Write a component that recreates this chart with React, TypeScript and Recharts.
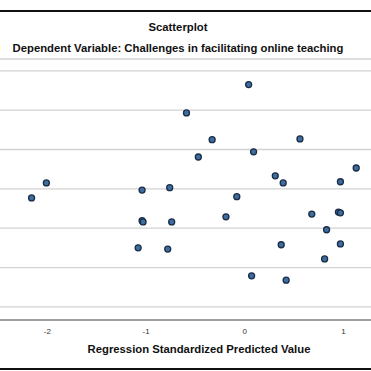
import { CartesianGrid, Scatter, ScatterChart, XAxis, YAxis } from 'recharts';

// Regression standardized predicted value (x) and residual (y)
const predictedValues = [
  -2.16, -2.01, -1.04, -0.76, -1.04, -1.03, -0.74, -1.08, -0.78, -0.59,
  -0.33, -0.47, 0.04, 0.09, -0.08, -0.19, 0.31, 0.39, 0.56, 0.07,
  0.42, 0.37, 0.68, 0.95, 0.97, 0.83, 0.81, 0.97, 0.97, 1.13,
];
const residuals = [
  -0.23, 0.15, -0.03, 0.03, -0.81, -0.84, -0.84, -1.5, -1.53, 1.93,
  1.25, 0.81, 2.65, 0.94, -0.2, -0.71, 0.33, 0.15, 1.27, -2.21,
  -2.32, -1.42, -0.64, -0.59, -0.61, -1.04, -1.78, -1.4, 0.18, 0.53,
];
const xTicks = [-2, -1, 0, 1];
const yTicks = [-3, -2, -1, 0, 1, 2, 3];

const points = predictedValues.map((x, i) => ({ x, y: residuals[i] }));

const font = '"Liberation Sans", Arial, sans-serif';

function Dot(props: any) {
  const { cx, cy } = props;
  return <circle cx={cx} cy={cy} r={3} fill="#3d6e9f" stroke="#1a2c46" strokeWidth={1.3} />;
}

const titleStyle = {
  position: 'absolute' as const,
  left: 0,
  textAlign: 'center' as const,
  fontSize: 11.3,
  fontWeight: 'bold' as const,
  color: '#111',
  whiteSpace: 'nowrap' as const,
};

export default function App() {
  return (
    <div
      style={{
        position: 'absolute',
        left: 0,
        top: 0,
        width: 371,
        height: 371,
        background: '#fff',
        fontFamily: font,
        overflow: 'hidden',
      }}
    >
      <div style={{ position: 'absolute', left: 0, top: 10, width: 371, height: 2, background: '#111' }} />
      <div style={{ ...titleStyle, width: 356, top: 21 }}>Scatterplot</div>
      <div style={{ ...titleStyle, width: 356, top: 42 }}>
        Dependent Variable: Challenges in facilitating online teaching
      </div>
      <div style={{ position: 'absolute', left: 0, top: 0 }}>
        <ScatterChart width={371} height={371} margin={{ top: 59, right: 0, bottom: 21, left: 0 }}>
          <CartesianGrid vertical={false} stroke="#d2d2d2" strokeWidth={1.3} />
          <XAxis
            type="number"
            dataKey="x"
            domain={[-2.48, 1.28]}
            ticks={xTicks}
            allowDataOverflow
            height={30}
            tickLine={false}
            axisLine={{ stroke: '#8a8a8a', strokeWidth: 1.3 }}
            tick={{ fontSize: 8, fill: '#333', fontFamily: font }}
            tickMargin={2}
          />
          <YAxis
            type="number"
            dataKey="y"
            domain={[-3.333, 3.3]}
            ticks={yTicks}
            allowDataOverflow
            width={0}
            tick={{ fontSize: 1, fill: 'none' }}
            tickLine={false}
            axisLine={false}
          />
          <Scatter data={points} shape={Dot} isAnimationActive={false} />
        </ScatterChart>
      </div>
      <div style={{ ...titleStyle, width: 398, top: 343 }}>Regression Standardized Predicted Value</div>
      <div style={{ position: 'absolute', left: 0, top: 368, width: 371, height: 2, background: '#111' }} />
    </div>
  );
}
